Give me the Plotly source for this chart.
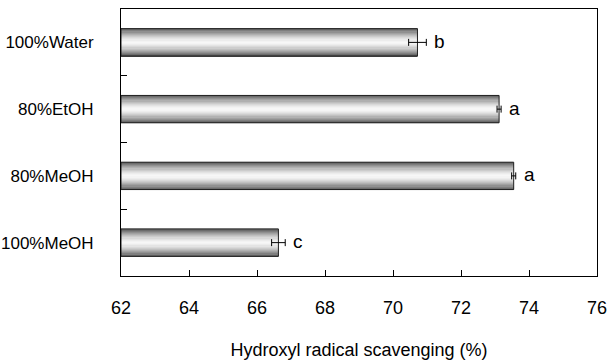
import plotly.graph_objects as go
import numpy as np

# Data (bottom to top as plotted)
categories = ["100%MeOH", "80%MeOH", "80%EtOH", "100%Water"]
values = [66.63, 73.55, 73.12, 70.72]
errors = [0.20, 0.06, 0.06, 0.26]
letters = ["c", "a", "a", "b"]
x_ticks = [62, 64, 66, 68, 70, 72, 74, 76]

FONT = "Liberation Sans, Arial, sans-serif"
BAR_W = 0.41
N = 24

fig = go.Figure()

# gradient strips (cylinder shading) built as stacked thin overlay bars
for k in range(N):
    t = (k + 0.5) / N  # 0 bottom -> 1 top
    d = abs(t - 0.52) / 0.52
    shade = 0.97 - 0.66 * d ** 1.5
    g = int(round(255 * shade))
    col = f"rgb({g},{g},{g})"
    fig.add_trace(go.Bar(
        y=categories, x=[v - 62 for v in values], base=62,
        orientation="h", width=BAR_W / N + 0.002,
        offset=-BAR_W / 2 + k * BAR_W / N,
        marker=dict(color=col, line=dict(width=0)),
        showlegend=False, hoverinfo="skip",
    ))

# outline + error bars
fig.add_trace(go.Bar(
    y=categories, x=[v - 62 for v in values], base=62,
    orientation="h", width=BAR_W, offset=-BAR_W / 2,
    marker=dict(color="rgba(0,0,0,0)", line=dict(color="#222222", width=1)),
    error_x=dict(type="data", array=errors, visible=True,
                 color="black", thickness=1, width=3.5),
    showlegend=False,
))

for c, v, e, L in zip(categories, values, errors, letters):
    fig.add_annotation(x=v + e, y=c, text=L, showarrow=False,
                       xanchor="left", xshift=6, yshift=1,
                       font=dict(family=FONT, size=19, color="black"))

fig.update_layout(
    width=608, height=360,
    margin=dict(l=121, r=11, t=9, b=84),
    barmode="overlay",
    plot_bgcolor="white", paper_bgcolor="white",
    font=dict(family=FONT, size=18, color="black"),
    xaxis=dict(
        range=[62, 76], tickvals=x_ticks, ticktext=[str(t) for t in x_ticks],
        showgrid=False, zeroline=False, automargin=False,
        showline=True, linecolor="black", linewidth=1, mirror=True,
        ticks="inside", ticklen=6, tickcolor="black",
        ticklabelstandoff=15,
        title=dict(text="Hydroxyl radical scavenging (%)",
                   font=dict(size=18), standoff=30),
    ),
    yaxis=dict(
        categoryorder="array", categoryarray=categories,
        range=[-0.5, 3.5], automargin=False,
        showgrid=False, zeroline=False,
        showline=True, linecolor="black", linewidth=1, mirror=True,
        ticks="inside", ticklen=6, tickcolor="black", tickson="boundaries",
        ticklabelstandoff=23, tickfont=dict(size=17),
    ),
)

fig.write_html("out.html")
